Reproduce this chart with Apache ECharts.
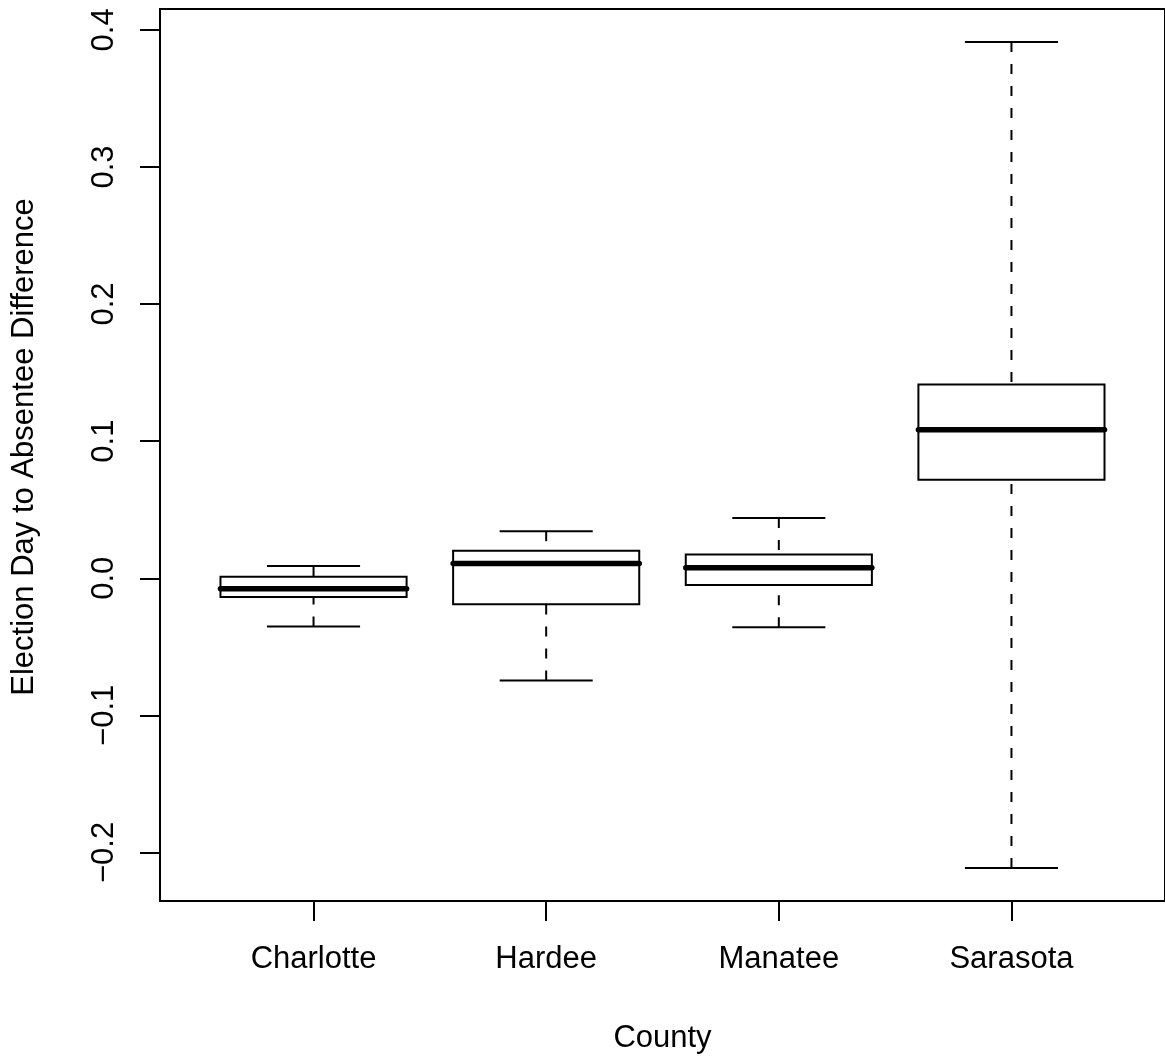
<!DOCTYPE html>
<html>
<head>
<meta charset="utf-8">
<title>Election Day to Absentee Difference by County</title>
<script src="https://cdn.jsdelivr.net/npm/echarts@6/dist/echarts.min.js"></script>
<style>
  html, body { margin: 0; padding: 0; background: #fff; }
  #chart { width: 1165px; height: 1059px; }
</style>
</head>
<body>
<div id="chart"></div>
<script>
// County groups and their five-number summaries
const counties = ['Charlotte', 'Hardee', 'Manatee', 'Sarasota'];
const lowerWhisker = [-0.0352, -0.0745, -0.0357, -0.2113];
const lowerQuartile = [-0.0137, -0.0190, -0.0049, 0.0718];
const medians = [-0.0076, 0.0108, 0.0076, 0.1084];
const upperQuartile = [0.0011, 0.0200, 0.0173, 0.1413];
const upperWhisker = [0.0089, 0.0343, 0.0440, 0.3911];

// Axis ticks
const xTicks = [1, 2, 3, 4];
const yTicks = [-0.2, -0.1, 0.0, 0.1, 0.2, 0.3, 0.4];

const FONT = 'Liberation Sans, Arial, Helvetica, sans-serif';
const INK = '#000';
const FS = 31;

const boxData = counties.map((c, i) => [
  i + 1, lowerWhisker[i], lowerQuartile[i], medians[i], upperQuartile[i], upperWhisker[i]
]);

function renderBox(params, api) {
  const x = api.value(0);
  const pLo = api.coord([x, api.value(1)]);
  const pQ1 = api.coord([x, api.value(2)]);
  const pMed = api.coord([x, api.value(3)]);
  const pQ3 = api.coord([x, api.value(4)]);
  const pHi = api.coord([x, api.value(5)]);
  const cx = pMed[0];
  const boxW = api.size([0.8, 0])[0];
  const capW = boxW / 2;
  const thin = { stroke: INK, lineWidth: 2, fill: null };
  const dashed = { stroke: INK, lineWidth: 2, lineDash: [10, 12], fill: null };
  return {
    type: 'group',
    children: [
      // whiskers, dashed from the cap toward the box
      { type: 'line', shape: { x1: cx, y1: pHi[1], x2: cx, y2: pQ3[1] }, style: dashed },
      { type: 'line', shape: { x1: cx, y1: pLo[1], x2: cx, y2: pQ1[1] }, style: dashed },
      // whisker caps
      { type: 'line', shape: { x1: cx - capW / 2, y1: pHi[1], x2: cx + capW / 2, y2: pHi[1] }, style: thin },
      { type: 'line', shape: { x1: cx - capW / 2, y1: pLo[1], x2: cx + capW / 2, y2: pLo[1] }, style: thin },
      // interquartile box
      {
        type: 'rect',
        shape: { x: cx - boxW / 2, y: pQ3[1], width: boxW, height: pQ1[1] - pQ3[1] },
        style: { stroke: INK, lineWidth: 2, fill: '#fff' }
      },
      // median
      {
        type: 'line',
        shape: { x1: cx - boxW / 2, y1: pMed[1], x2: cx + boxW / 2, y2: pMed[1] },
        style: { stroke: INK, lineWidth: 5.5, lineCap: 'round' }
      }
    ]
  };
}

const chart = echarts.init(document.getElementById('chart'), null, { renderer: 'canvas' });

chart.setOption({
  animation: false,
  backgroundColor: '#fff',
  textStyle: { fontFamily: FONT },
  grid: {
    left: 160, top: 9, width: 1010, height: 895,
    show: true, borderColor: INK, borderWidth: 2, backgroundColor: 'transparent'
  },
  xAxis: {
    type: 'value',
    min: 0.34,
    max: 4.66,
    name: 'County',
    nameLocation: 'middle',
    nameGap: 122,
    nameTextStyle: { fontSize: FS, color: INK, fontFamily: FONT },
    splitLine: { show: false },
    axisLine: { show: true, onZero: false, lineStyle: { color: INK, width: 2 } },
    axisTick: {
      show: true, inside: false, length: 20,
      customValues: xTicks,
      lineStyle: { color: INK, width: 2 }
    },
    axisLabel: {
      customValues: xTicks,
      margin: 43,
      fontSize: FS,
      color: INK,
      fontFamily: FONT,
      formatter: v => counties[Math.round(v) - 1] || ''
    }
  },
  yAxis: {
    type: 'value',
    min: -0.2354,
    max: 0.4152,
    name: 'Election Day to Absentee Difference',
    nameLocation: 'middle',
    nameGap: 120,
    nameRotate: 90,
    nameTextStyle: { fontSize: FS, color: INK, fontFamily: FONT, padding: [0, 0, 0, 16] },
    splitLine: { show: false },
    axisLine: { show: true, onZero: false, lineStyle: { color: INK, width: 2 } },
    axisTick: {
      show: true, inside: false, length: 20,
      customValues: yTicks,
      lineStyle: { color: INK, width: 2 }
    },
    axisLabel: {
      customValues: yTicks,
      rotate: 90,
      margin: 40,
      fontSize: FS,
      color: INK,
      fontFamily: FONT,
      formatter: v => (v < -1e-9 ? '\u2212' : '') + Math.abs(v).toFixed(1)
    }
  },
  series: [{
    type: 'custom',
    renderItem: renderBox,
    encode: { x: 0, y: [1, 2, 3, 4, 5] },
    data: boxData,
    clip: false
  }]
});
</script>
</body>
</html>
